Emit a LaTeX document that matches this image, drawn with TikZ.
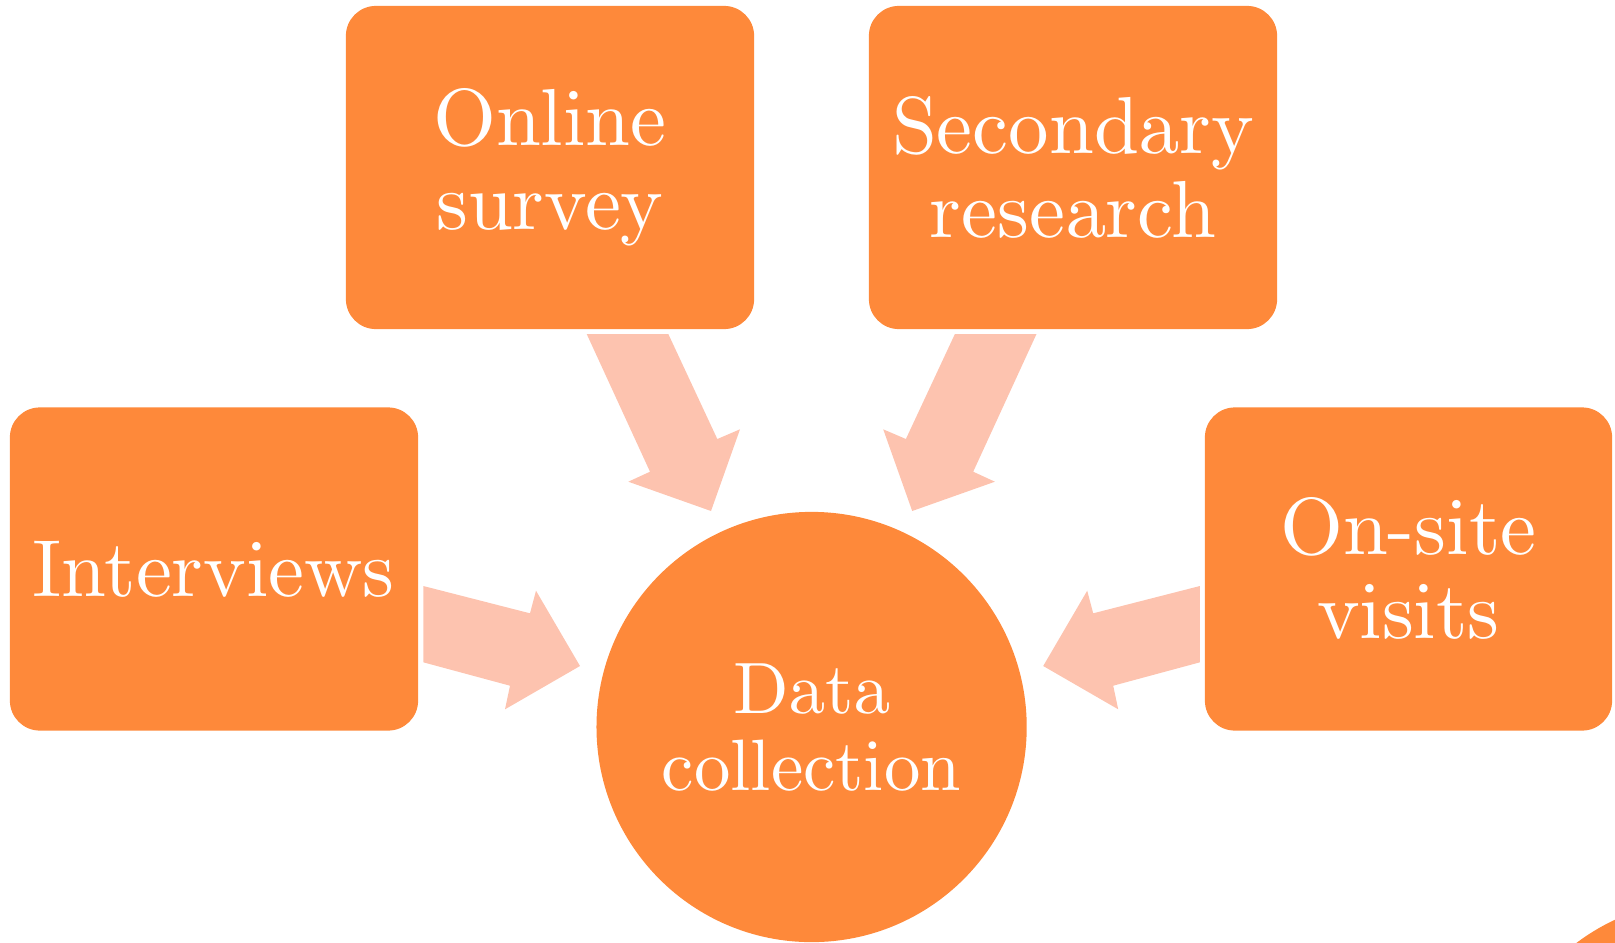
\documentclass[tikz,border=0pt]{standalone}
\definecolor{boxorange}{RGB}{254,137,58}
\definecolor{arrowpeach}{RGB}{253,195,175}
\font\srcfont=cmr10 at 23pt
\font\hubfont=cmr10 at 20.7pt
\begin{document}
\begin{tikzpicture}[x=0.01cm,y=-0.01cm,
  box/.style={draw=none, fill=boxorange, rounded corners=0.3cm,
    minimum width=4.08cm, minimum height=3.23cm, inner sep=0pt,
    text=white, align=center, font={\fontsize{23}{24}\selectfont\srcfont}},
  hub/.style={circle, draw=none, fill=boxorange, minimum size=4.3cm, inner sep=0pt,
    text=white, align=center, font={\fontsize{20.7}{21.7}\selectfont\hubfont}},
  blockarrow/.style={fill=arrowpeach, draw=none}]
  \useasboundingbox (0,0) rectangle (1615,942);

  % source boxes
  \node[box] (online) at (550,167.5) {Online\\survey};
  \node[box] (second) at (1073,167.5) {Secondary\\research};
  \node[box] (ivw) at (214,569) {Interviews};
  \node[box, minimum width=4.07cm] (visit) at (1408.5,569) {On-site\\visits};

  % central hub
  \node[hub] (data) at (811.6,727) {Data\\collection};

  % block arrows pointing into the hub
  \fill[blockarrow] (423.3,586) -- (530,613.3) -- (536,590.7) -- (580,666)
    -- (505,709.3) -- (510,685.7) -- (423.3,662.3) -- cycle;
  \fill[blockarrow] (1199.9,586) -- (1093.2,613.3) -- (1087.2,590.7) -- (1043.2,666)
    -- (1118.2,709.3) -- (1113.2,685.7) -- (1199.9,662.3) -- cycle;
  \fill[blockarrow] (586.7,334) -- (668.3,334) -- (717.3,439) -- (740,429.3)
    -- (711,511) -- (628.3,481.7) -- (650,471.7) -- cycle;
  \fill[blockarrow] (1036.5,334) -- (954.9,334) -- (905.9,439) -- (883.2,429.3)
    -- (912.2,511) -- (994.9,481.7) -- (973.2,471.7) -- cycle;

  % edge of a further circle in the corner
  \begin{scope}
    \clip (0,0) rectangle (1615,942);
    \node[hub] (more) at (1705.8,1114.8) {};
  \end{scope}
\end{tikzpicture}
\end{document}
